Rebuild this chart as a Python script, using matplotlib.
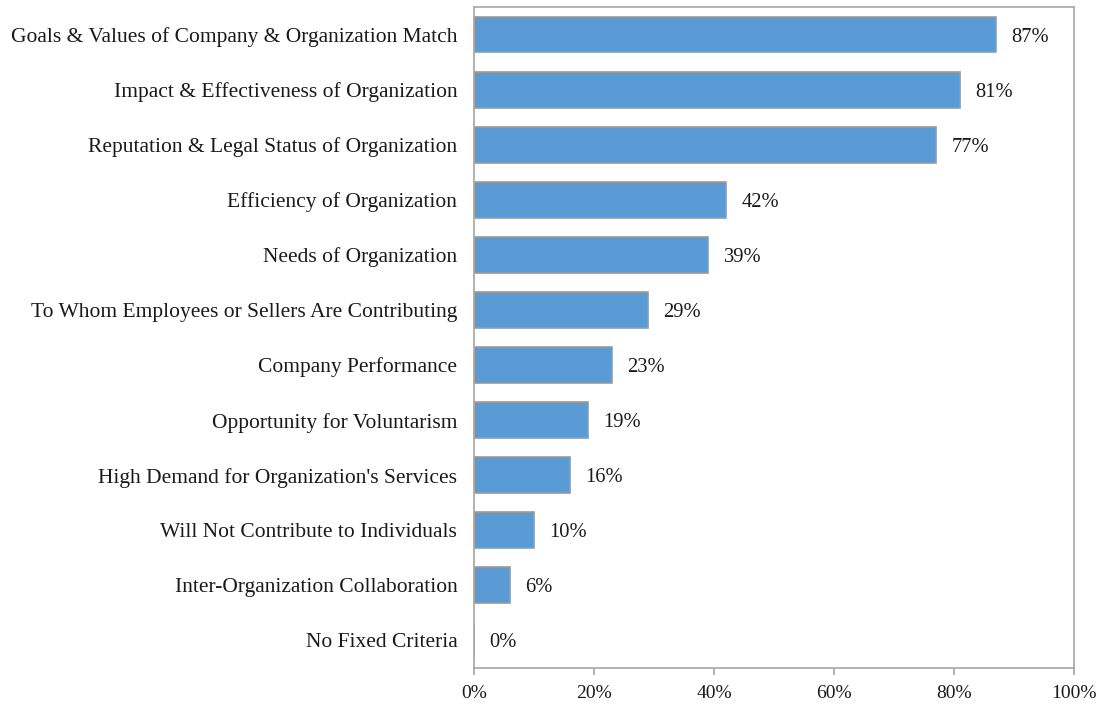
import matplotlib
matplotlib.use("Agg")
import matplotlib.pyplot as plt
from matplotlib.ticker import FuncFormatter

categories = [
    "Goals & Values of Company & Organization Match",
    "Impact & Effectiveness of Organization",
    "Reputation & Legal Status of Organization",
    "Efficiency of Organization",
    "Needs of Organization",
    "To Whom Employees or Sellers Are Contributing",
    "Company Performance",
    "Opportunity for Voluntarism",
    "High Demand for Organization's Services",
    "Will Not Contribute to Individuals",
    "Inter-Organization Collaboration",
    "No Fixed Criteria",
]
values = [87, 81, 77, 42, 39, 29, 23, 19, 16, 10, 6, 0]
xticks = [0, 20, 40, 60, 80, 100]

plt.rcParams['font.family'] = ['Liberation Serif', 'DejaVu Serif']

fig = plt.figure(figsize=(11.10, 7.06), dpi=100)
ax = fig.add_axes([474/1110, 1-668/706, 600/1110, 661/706])

pos = list(range(len(categories)))
ax.barh(pos, values, height=0.65, color="#5B9BD5", edgecolor="#9A9A9A", linewidth=1.2)
for p, v in zip(pos, values):
    ax.text(v + 2.6, p, f"{v}%", va="center_baseline", ha="left", color="#1a1a1a", fontsize=14.8)

ax.set_yticks(pos)
ax.set_yticklabels(categories, fontsize=15.5)
ax.set_ylim(len(categories) - 0.5, -0.5)
ax.set_xlim(0, 100)
ax.set_xticks(xticks)
ax.xaxis.set_major_formatter(FuncFormatter(lambda x, _: f"{int(x)}%"))

for s in ax.spines.values():
    s.set_color("#A6A6A6")
    s.set_linewidth(1.2)
ax.tick_params(axis="y", length=0, pad=12, colors="#1a1a1a")
ax.tick_params(axis="x", length=5, width=1.2, color="#A6A6A6", pad=7,
               labelcolor="#1a1a1a", labelsize=14)

fig.savefig("out.png", dpi=100)
